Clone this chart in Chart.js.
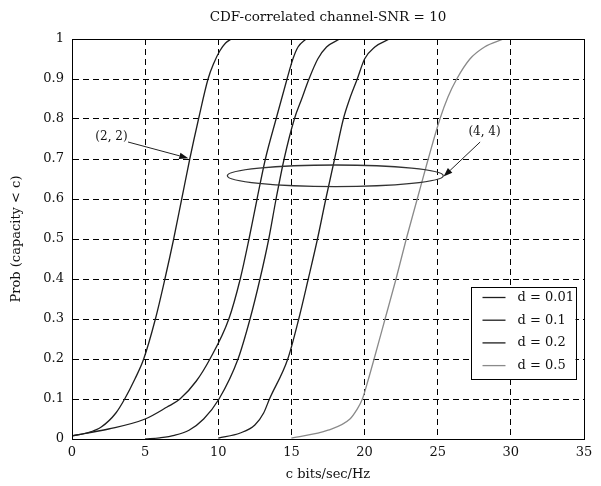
<!DOCTYPE html>
<html>
<head>
<meta charset="utf-8">
<script src="https://cdn.jsdelivr.net/npm/chart.js@4/dist/chart.umd.min.js"></script>
<style>
  html, body { margin: 0; padding: 0; background: #fff; }
  #wrap { width: 601px; height: 486px; }
</style>
</head>
<body>
<div id="wrap"><canvas id="myChart" width="601" height="486"></canvas></div>
<script>
// curves: x = c bits/sec/Hz, y = Prob(capacity < c)
var curve22X = [0, 1, 2, 3, 3.6, 4.3, 4.9, 5.7, 6.35, 6.95, 7.5, 8.05, 8.65, 9.3, 9.7, 10.1, 10.5, 10.9];
var curve22Y = [0.008, 0.015, 0.03, 0.065, 0.1, 0.15, 0.2, 0.3, 0.4, 0.5, 0.6, 0.7, 0.8, 0.9, 0.94, 0.97, 0.99, 1];

var d001X = [0, 2.5, 5, 6.5, 7.38, 8.5, 9.43, 10.72, 11.5, 12.1, 12.65, 13.22, 13.95, 14.7, 15.1, 15.45, 16.0];
var d001Y = [0.008, 0.025, 0.05, 0.08, 0.1, 0.145, 0.2, 0.3, 0.4, 0.5, 0.6, 0.7, 0.8, 0.9, 0.95, 0.98, 1];

var d01X = [5, 6, 7, 8, 9, 10.05, 11.35, 12.17, 12.85, 13.45, 13.95, 14.5, 15.2, 15.7, 16.2, 16.8, 17.4, 18.3];
var d01Y = [0, 0.003, 0.009, 0.022, 0.05, 0.1, 0.2, 0.3, 0.4, 0.5, 0.6, 0.7, 0.8, 0.85, 0.9, 0.95, 0.98, 1];

var d02X = [10, 11.5, 12.5, 13.1, 13.5, 14.75, 15.5, 16.15, 16.78, 17.35, 17.95, 18.55, 18.98, 19.5, 20.0, 20.7, 21.7];
var d02Y = [0.002, 0.015, 0.035, 0.065, 0.1, 0.2, 0.3, 0.4, 0.5, 0.6, 0.7, 0.8, 0.85, 0.9, 0.95, 0.98, 1];

var d05X = [15, 17.5, 19.0, 19.45, 19.85, 20.25, 20.65, 21.4, 22.15, 22.85, 23.6, 24.35, 25.15, 25.7, 26.3, 27.2, 28.2, 29.5];
var d05Y = [0.002, 0.022, 0.05, 0.072, 0.1, 0.148, 0.2, 0.3, 0.4, 0.5, 0.6, 0.7, 0.8, 0.855, 0.9, 0.95, 0.98, 1];

var seriesLabels = ['(2,2)', 'd = 0.01', 'd = 0.1', 'd = 0.2', 'd = 0.5'];
var xTickLabels = ['0', '5', '10', '15', '20', '25', '30', '35'];
var yTickLabels = ['0', '0.1', '0.2', '0.3', '0.4', '0.5', '0.6', '0.7', '0.8', '0.9', '1'];
var chartTitle = 'CDF-correlated channel-SNR = 10';

var SERIF = '"DejaVu Serif", "Liberation Serif", serif';
var BLACK = '#1e1e1e';
var GRAY = '#8a8a8a';

function pts(xs, ys) {
    return xs.map(function(x, i) { return {x: x, y: ys[i]}; });
}

function line(label, xs, ys, color, inLegend) {
    return {
        label: label,
        data: pts(xs, ys),
        borderColor: color,
        backgroundColor: color,
        borderWidth: 1.3,
        pointRadius: 0,
        fill: false,
        cubicInterpolationMode: 'monotone',
        inLegend: inLegend
    };
}

// annotations (data units)
var ellipse = {cx: 18.0, cy: 0.658, rx: 7.38, ry: 0.027};
var notes = [
    {text: '(2, 2)', tx: 2.7, ty: 0.755, x1: 3.83, y1: 0.7425, x2: 7.95, y2: 0.702},
    {text: '(4, 4)', tx: 28.2, ty: 0.769, x1: 27.9, y1: 0.7425, x2: 25.4, y2: 0.656}
];

function arrow(ctx, x1, y1, x2, y2) {
    var a = Math.atan2(y2 - y1, x2 - x1);
    var L = 9, W = 3.2;
    ctx.beginPath();
    ctx.moveTo(x1, y1);
    ctx.lineTo(x2 - L * Math.cos(a), y2 - L * Math.sin(a));
    ctx.stroke();
    ctx.beginPath();
    ctx.moveTo(x2, y2);
    ctx.lineTo(x2 - L * Math.cos(a) + W * Math.sin(a), y2 - L * Math.sin(a) - W * Math.cos(a));
    ctx.lineTo(x2 - L * Math.cos(a) - W * Math.sin(a), y2 - L * Math.sin(a) + W * Math.cos(a));
    ctx.closePath();
    ctx.fill();
}

var extras = {
    id: 'extras',
    afterDatasetsDraw: function(chart) {
        var ctx = chart.ctx, a = chart.chartArea;
        var xs = chart.scales.x, ys = chart.scales.y;
        ctx.save();
        // solid box
        ctx.strokeStyle = '#000';
        ctx.lineWidth = 1;
        ctx.strokeRect(Math.round(a.left) + 0.5, Math.round(a.top) + 0.5,
            Math.round(a.right - a.left), Math.round(a.bottom - a.top));

        // title, centred over the plot
        ctx.font = '13.5px ' + SERIF;
        ctx.fillStyle = '#111';
        ctx.textAlign = 'center';
        ctx.textBaseline = 'middle';
        ctx.fillText(chartTitle, (a.left + a.right) / 2, 17);

        // ellipse
        var cx = xs.getPixelForValue(ellipse.cx), cy = ys.getPixelForValue(ellipse.cy);
        var rx = xs.getPixelForValue(ellipse.cx + ellipse.rx) - cx;
        var ry = cy - ys.getPixelForValue(ellipse.cy + ellipse.ry);
        ctx.strokeStyle = '#333';
        ctx.lineWidth = 1.3;
        ctx.beginPath();
        ctx.ellipse(cx, cy, rx, ry, 0, 0, Math.PI * 2);
        ctx.stroke();

        // labels + arrows
        ctx.font = '12px ' + SERIF;
        ctx.strokeStyle = '#222';
        ctx.lineWidth = 1;
        notes.forEach(function(n) {
            ctx.fillText(n.text, xs.getPixelForValue(n.tx), ys.getPixelForValue(n.ty));
            arrow(ctx, xs.getPixelForValue(n.x1), ys.getPixelForValue(n.y1),
                xs.getPixelForValue(n.x2), ys.getPixelForValue(n.y2));
        });

        // legend box
        var items = chart.data.datasets.filter(function(d) { return d.inLegend; });
        var bw = 105, rowH = 22.7;
        var bx = a.right - 8.5 - bw, by = 286.5;
        var bh = rowH * items.length + 1;
        ctx.fillStyle = '#fff';
        ctx.fillRect(bx, by, bw, bh);
        ctx.strokeStyle = '#000';
        ctx.strokeRect(Math.round(bx) + 0.5, Math.round(by) + 0.5, bw, Math.round(bh));
        ctx.font = '13px ' + SERIF;
        ctx.textAlign = 'left';
        items.forEach(function(d, i) {
            var y = by + 11 + i * rowH;
            ctx.strokeStyle = d.borderColor;
            ctx.lineWidth = 1.3;
            ctx.beginPath();
            ctx.moveTo(bx + 12, y);
            ctx.lineTo(bx + 35, y);
            ctx.stroke();
            ctx.fillStyle = '#111';
            ctx.fillText(d.label, bx + 47, y);
        });
        ctx.restore();
    }
};

new Chart(document.getElementById('myChart').getContext('2d'), {
    type: 'line',
    data: {
        datasets: [
            line(seriesLabels[0], curve22X, curve22Y, BLACK, false),
            line(seriesLabels[1], d001X, d001Y, BLACK, true),
            line(seriesLabels[2], d01X, d01Y, BLACK, true),
            line(seriesLabels[3], d02X, d02Y, BLACK, true),
            line(seriesLabels[4], d05X, d05Y, GRAY, true)
        ]
    },
    options: {
        responsive: false,
        animation: false,
        layout: {padding: {left: 0, right: 17, top: 39, bottom: 0}},
        plugins: {
            legend: {display: false},
            tooltip: {enabled: false},
            title: {display: false}
        },
        scales: {
            x: {
                type: 'linear',
                min: 0, max: 35,
                afterFit: function(s) { s.height = 47; },
                ticks: {
                    stepSize: 5,
                    padding: 6,
                    color: '#111',
                    maxRotation: 0,
                    font: {family: SERIF, size: 13},
                    callback: function(v, i) { return xTickLabels[i]; }
                },
                grid: {color: '#000', lineWidth: 1, drawTicks: false},
                border: {color: '#000', dash: [6, 4]},
                title: {
                    display: true,
                    text: 'c bits/sec/Hz',
                    color: '#111',
                    font: {family: SERIF, size: 13},
                    padding: {top: 0, bottom: 4}
                }
            },
            y: {
                min: 0, max: 1,
                afterFit: function(s) { s.width = 72; },
                ticks: {
                    stepSize: 0.1,
                    padding: 8,
                    color: '#111',
                    font: {family: SERIF, size: 13},
                    callback: function(v, i) { return yTickLabels[i]; }
                },
                grid: {color: '#000', lineWidth: 1, drawTicks: false},
                border: {color: '#000', dash: [6, 4]},
                title: {
                    display: true,
                    text: 'Prob (capacity < c)',
                    color: '#111',
                    font: {family: SERIF, size: 13},
                    padding: {top: 9, bottom: 0}
                }
            }
        }
    },
    plugins: [extras]
});
</script>
</body>
</html>
